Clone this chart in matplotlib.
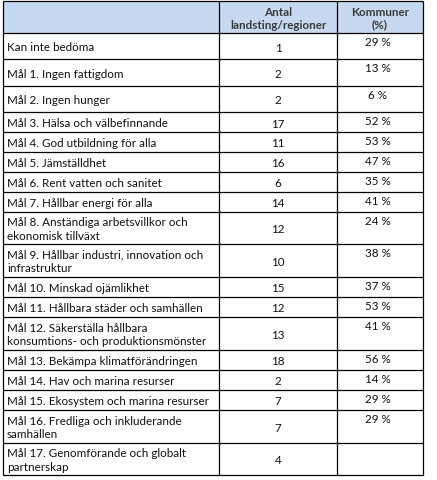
import matplotlib.pyplot as plt
from matplotlib.patches import Rectangle

plt.rcParams['font.family'] = ['Lato', 'DejaVu Sans']

headers = ["", "Antal\nlandsting/regioner", "Kommuner\n(%)"]
goals = [
    "Kan inte bedöma",
    "Mål 1. Ingen fattigdom",
    "Mål 2. Ingen hunger",
    "Mål 3. Hälsa och välbefinnande",
    "Mål 4. God utbildning för alla",
    "Mål 5. Jämställdhet",
    "Mål 6. Rent vatten och sanitet",
    "Mål 7. Hållbar energi för alla",
    "Mål 8. Anständiga arbetsvillkor och\nekonomisk tillväxt",
    "Mål 9. Hållbar industri, innovation och\ninfrastruktur",
    "Mål 10. Minskad ojämlikhet",
    "Mål 11. Hållbara städer och samhällen",
    "Mål 12. Säkerställa hållbara\nkonsumtions- och produktionsmönster",
    "Mål 13. Bekämpa klimatförändringen",
    "Mål 14. Hav och marina resurser",
    "Mål 15. Ekosystem och marina resurser",
    "Mål 16. Fredliga och inkluderande\nsamhällen",
    "Mål 17. Genomförande och globalt\npartnerskap",
]
landsting = [1, 2, 2, 17, 11, 16, 6, 14, 12, 10, 15, 12, 13, 18, 2, 7, 7, 4]
kommuner = [29, 13, 6, 52, 53, 47, 35, 41, 24, 38, 37, 53, 41, 56, 14, 29, 29, None]

# layout in pixels (row boundaries, column boundaries)
row_y = [2, 34, 60, 87, 113, 133, 153, 173, 193, 213, 245, 278, 298, 318,
         351, 371, 391, 411, 444, 476]
col_x = [3, 219, 337, 423]

fig = plt.figure(figsize=(4.37, 4.81), dpi=100)
ax = fig.add_axes([0, 0, 1, 1])
ax.set_xlim(0, 437)
ax.set_ylim(481, 0)
ax.axis('off')

fs = 8.4
ax.add_patch(Rectangle((col_x[0], row_y[0]), col_x[-1] - col_x[0], row_y[1] - row_y[0],
                       facecolor='#c6d9f1', edgecolor='none'))
for j in (1, 2):
    ax.text((col_x[j] + col_x[j + 1]) / 2, (row_y[0] + row_y[1]) / 2 + 1, headers[j],
            ha='center', va='center', fontsize=fs, fontweight='bold', color='#3a3a3a',
            linespacing=1.15)

for i, g in enumerate(goals):
    top, bot = row_y[i + 1], row_y[i + 2]
    mid = (top + bot) / 2
    ax.text(col_x[0] + 4, mid + 0.5, g, ha='left', va='center', fontsize=fs,
            color='#111111', linespacing=1.25)
    ax.text((col_x[1] + col_x[2]) / 2, mid + 1, str(landsting[i]), ha='center', va='center',
            fontsize=fs, color='#111111')
    if kommuner[i] is not None:
        ax.text((col_x[2] + col_x[3]) / 2 - 2, top + 3, f"{kommuner[i]} %", ha='center',
                va='top', fontsize=fs, color='#111111')

lw = 0.9
ax.hlines(row_y, col_x[0], col_x[-1], color='black', lw=lw)
ax.vlines(col_x, row_y[0], row_y[-1], color='black', lw=lw)

fig.savefig('out.png', dpi=100, facecolor='white')
